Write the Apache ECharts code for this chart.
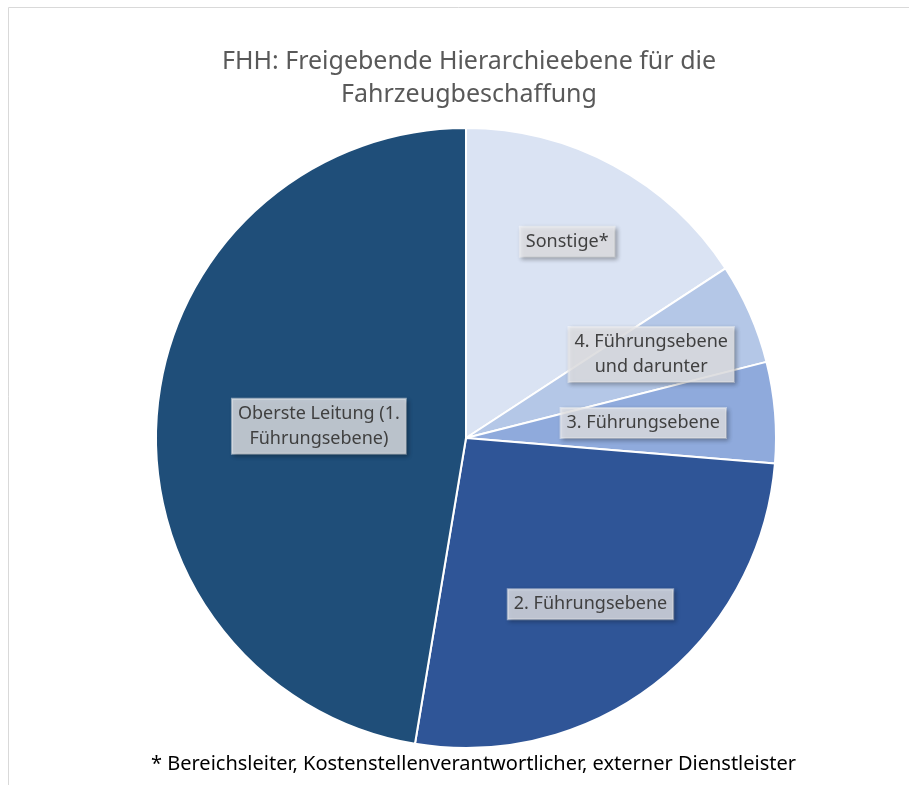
<!DOCTYPE html>
<html>
<head>
<meta charset="utf-8">
<script src="https://cdn.jsdelivr.net/npm/echarts@6/dist/echarts.min.js"></script>
<style>
  html, body { margin: 0; padding: 0; background: #fff; }
  #chart { width: 909px; height: 785px; }
</style>
</head>
<body>
<div id="chart"></div>
<script>
// Daten (Anzahl Nennungen), im Uhrzeigersinn ab 12 Uhr
const categories = ['Sonstige*', '4. Führungsebene\nund darunter', '3. Führungsebene', '2. Führungsebene', 'Oberste Leitung (1.\nFührungsebene)']
const values = [3, 1, 1, 5, 9]
const colors = ['#dae3f3', '#b4c7e7', '#8faadc', '#2f5597', '#1f4e79']

const titleText = 'FHH: Freigebende Hierarchieebene für die\nFahrzeugbeschaffung'
const footnote = '* Bereichsleiter, Kostenstellenverantwortlicher, externer Dienstleister'

// Lage des Kreises
const cx = 466, cy = 438, R = 310
// Abstand der Beschriftung vom Mittelpunkt (Anteil des Radius)
const labelDist = [0.72, 0.67, 0.59, 0.68, 0.46]

let myChart = echarts.init(document.getElementById('chart'))

const total = values.reduce((a, b) => a + b, 0)
function labelPoint(i) {
	let before = 0
	for (let k = 0; k < i; k++) before += values[k]
	let mid = (before + values[i] / 2) / total * Math.PI * 2
	let r = R * labelDist[i]
	return { x: cx + r * Math.sin(mid), y: cy - r * Math.cos(mid) }
}

let option = {
	animation: false,
	graphic: [
		{ type: 'line', shape: { x1: 8.5, y1: 7.5, x2: 909, y2: 7.5 }, style: { stroke: '#d9d9d9', lineWidth: 1 } },
		{ type: 'line', shape: { x1: 8.5, y1: 7.5, x2: 8.5, y2: 785 }, style: { stroke: '#d9d9d9', lineWidth: 1 } },
		// Titel
		{
			type: 'text',
			x: 469,
			y: 45,
			style: {
				text: titleText,
				textAlign: 'center',
				fontFamily: 'Noto Sans',
				fontSize: 25,
				lineHeight: 33,
				fill: '#595959'
			}
		},
		// Fußnote
		{
			type: 'text',
			left: 151,
			top: 754,
			style: {
				text: footnote,
				fontFamily: 'Noto Sans',
				fontSize: 20,
				fill: '#000'
			}
		}
	],
	series: [{
		type: 'pie',
		center: [cx, cy],
		radius: [0, R],
		startAngle: 90,
		clockwise: true,
		avoidLabelOverlap: false,
		itemStyle: {
			borderColor: '#fff',
			borderWidth: 2
		},
		label: {
			show: true,
			position: 'inside',
			formatter: '{b}',
			fontFamily: 'Noto Sans',
			fontSize: 18,
			lineHeight: 25,
			color: '#404040',
			align: 'center',
			backgroundColor: 'rgba(233,233,236,0.78)',
			borderColor: 'rgba(255,255,255,0.5)',
			borderWidth: 1,
			padding: [3, 6, 2, 6],
			shadowColor: 'rgba(0,0,0,0.35)',
			shadowBlur: 4,
			shadowOffsetX: 2,
			shadowOffsetY: 2
		},
		labelLine: { show: false },
		labelLayout: function (params) {
			let p = labelPoint(params.dataIndex)
			return { x: p.x - 5, y: p.y, align: 'center', verticalAlign: 'middle' }
		},
		emphasis: { disabled: true },
		data: categories.map((name, i) => ({
			name: name,
			value: values[i],
			itemStyle: { color: colors[i] }
		}))
	}]
}

myChart.setOption(option)
</script>
</body>
</html>
